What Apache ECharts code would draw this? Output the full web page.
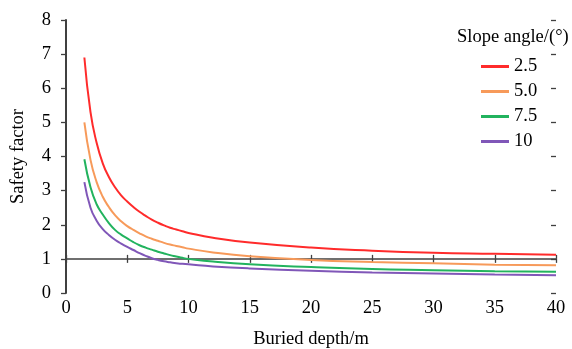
<!DOCTYPE html>
<html>
<head>
<meta charset="utf-8">
<script src="https://cdn.jsdelivr.net/npm/echarts@6/dist/echarts.min.js"></script>
<style>html,body{margin:0;padding:0;background:#fff;}#c{width:572px;height:349px;}</style>
</head>
<body>
<div id="c"></div>
<script>
const depths = [1.5, 2, 2.5, 3, 3.5, 4, 4.5, 5, 5.5, 6, 6.5, 7, 7.5, 8, 8.5, 9, 9.5, 10, 12, 15, 20, 25, 30, 35, 40];
const seriesNames = ['2.5', '5.0', '7.5', '10'];
const sf_2_5 = [6.9, 5.3, 4.4, 3.8, 3.4, 3.1, 2.86, 2.68, 2.52, 2.38, 2.26, 2.15, 2.06, 1.98, 1.91, 1.86, 1.81, 1.76, 1.62, 1.48, 1.33, 1.24, 1.18, 1.15, 1.12];
const sf_5_0 = [5.0, 3.9, 3.25, 2.82, 2.52, 2.28, 2.1, 1.96, 1.85, 1.75, 1.66, 1.59, 1.53, 1.47, 1.42, 1.38, 1.34, 1.30, 1.19, 1.08, 0.97, 0.91, 0.87, 0.83, 0.81];
const sf_7_5 = [3.92, 3.1, 2.6, 2.3, 2.05, 1.85, 1.71, 1.6, 1.49, 1.4, 1.33, 1.27, 1.21, 1.16, 1.11, 1.07, 1.03, 1.0, 0.92, 0.84, 0.76, 0.70, 0.67, 0.64, 0.62];
const sf_10 = [3.25, 2.5, 2.12, 1.87, 1.7, 1.56, 1.45, 1.35, 1.26, 1.17, 1.09, 1.02, 0.97, 0.93, 0.9, 0.87, 0.855, 0.84, 0.78, 0.72, 0.65, 0.60, 0.57, 0.54, 0.52];
const xTicks = [0, 5, 10, 15, 20, 25, 30, 35, 40];
const yTicks = [0, 1, 2, 3, 4, 5, 6, 7, 8];

const colors = ['#ff2b2b', '#f79a5a', '#22b35e', '#8057b8'];
const allData = [sf_2_5, sf_5_0, sf_7_5, sf_10];
const font = "'Liberation Serif','Times New Roman',serif";
const fs = 18.5;
const axisColor = '#404040';

const chart = echarts.init(document.getElementById('c'), null, {renderer: 'canvas'});
chart.setOption({
  animation: false,
  backgroundColor: '#fff',
  textStyle: {fontFamily: font},
  grid: {left: 66, right: 16, top: 20, bottom: 56, containLabel: false, outerBoundsMode: 'none'},
  title: {
    text: 'Slope angle/(°)', left: 457, top: 28, padding: 0,
    textStyle: {fontFamily: font, fontSize: fs, fontWeight: 'normal', color: '#000'}
  },
  legend: {
    orient: 'vertical', left: 481, top: 57, padding: 0, itemWidth: 28, itemHeight: 3, itemGap: 6,
    icon: 'rect',
    data: seriesNames,
    textStyle: {fontFamily: font, fontSize: fs, color: '#000'}
  },
  xAxis: [
    {
      type: 'value', min: 0, max: 40, interval: 5, position: 'bottom',
      axisLine: {show: false}, axisTick: {show: false}, splitLine: {show: false},
      axisLabel: {fontFamily: font, fontSize: fs, color: '#000', margin: 6,
        formatter: v => xTicks.includes(v) ? String(v) : ''},
      name: 'Buried depth/m', nameLocation: 'middle', nameGap: 37,
      nameTextStyle: {fontFamily: font, fontSize: fs, color: '#000'}
    },
    {
      type: 'value', min: 0, max: 40, interval: 5, position: 'bottom',
      axisLine: {show: true, onZero: true, onZeroAxisIndex: 1, lineStyle: {color: axisColor, width: 1.5}},
      axisTick: {show: true, length: 4, inside: false, lineStyle: {color: axisColor, width: 1.3}},
      axisLabel: {show: false}, splitLine: {show: false}
    },
    {
      type: 'value', min: 0, max: 40, interval: 5, position: 'bottom',
      axisLine: {show: false, onZero: true, onZeroAxisIndex: 1},
      axisTick: {show: true, length: 4, inside: true, lineStyle: {color: axisColor, width: 1.3}},
      axisLabel: {show: false}, splitLine: {show: false}
    }
  ],
  yAxis: [
    {
      type: 'value', min: 0, max: 8, interval: 1,
      axisLine: {show: true, onZero: false, lineStyle: {color: axisColor, width: 2}},
      axisTick: {show: true, length: 5, lineStyle: {color: axisColor, width: 1.3}},
      splitLine: {show: false},
      axisLabel: {fontFamily: font, fontSize: fs, color: '#000', margin: 15,
        formatter: v => yTicks.includes(v) ? String(v) : ''},
      name: 'Safety factor', nameLocation: 'middle', nameGap: 38, nameRotate: 90,
      nameTextStyle: {fontFamily: font, fontSize: fs, color: '#000'}
    },
    {
      type: 'value', min: -1, max: 7, interval: 1, show: false
    },
    {
      type: 'value', min: 0, max: 8, interval: 1,
      axisLine: {show: false, onZero: false},
      axisTick: {show: true, length: 5, inside: true, lineStyle: {color: axisColor, width: 1.3}},
      axisLabel: {show: false}, splitLine: {show: false}
    }
  ],
  series: seriesNames.map((name, i) => ({
    name: name,
    type: 'line',
    xAxisIndex: 0,
    yAxisIndex: 0,
    smooth: 0.5,
    symbol: 'none',
    lineStyle: {color: colors[i], width: 2},
    itemStyle: {color: colors[i]},
    data: depths.map((d, j) => [d, allData[i][j]])
  }))
});
</script>
</body>
</html>
